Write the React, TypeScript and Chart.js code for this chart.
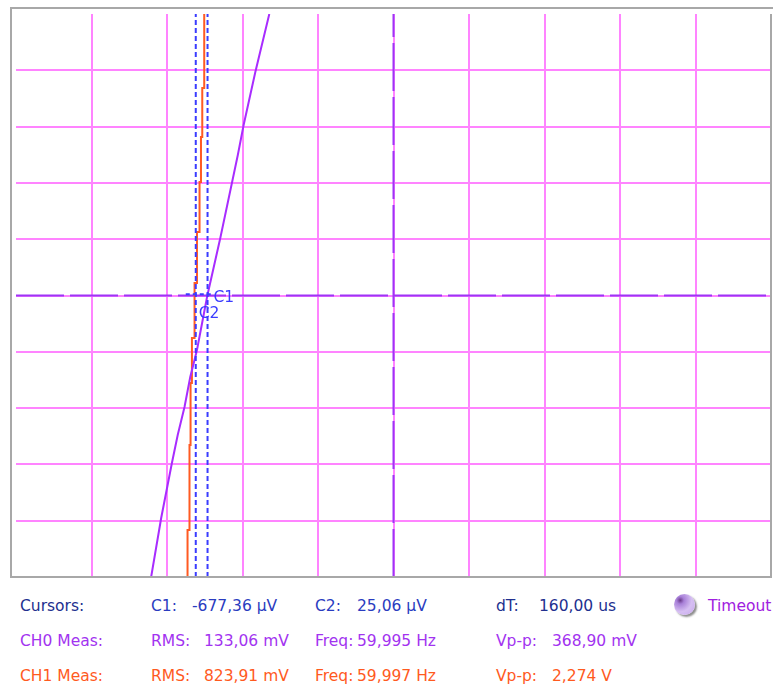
import React, { useEffect, useRef } from "react";
import { Chart, registerables } from "chart.js";
Chart.register(...registerables);

// Screen: 10 horizontal divisions x 10 vertical divisions, centre at (5, 0)
const ch0X = [1.79, 1.923, 2.065, 2.142, 2.232, 2.308, 2.397, 2.533, 2.706, 2.938, 3.015, 3.17, 3.355];
const ch0Y = [-5.0, -3.952, -2.975, -2.478, -1.98, -1.448, -0.968, -0.009, 1.021, 2.496, 3.028, 3.97, 5.0];
const ch1X = [2.272, 2.298, 2.312, 2.33, 2.365, 2.397, 2.431, 2.45, 2.467, 2.493, 2.493];
const ch1Y = [-5.0, -4.165, -2.655, -1.554, -0.755, 0.222, 1.128, 2.016, 2.815, 3.686, 5.0];
const cursorX = [2.381, 2.537];
const cursorLabels = ["C2", "C1"];
const hCursorLevel = 0.02;

const rowLabels = ["Cursors:", "CH0 Meas:", "CH1 Meas:"];
const col1Labels = ["C1:", "RMS:", "RMS:"];
const col1Values = ["-677,36 µV", "133,06 mV", "823,91 mV"];
const col2Labels = ["C2:", "Freq:", "Freq:"];
const col2Values = ["25,06 µV", "59,995 Hz", "59,997 Hz"];
const col3Labels = ["dT:", "Vp-p:", "Vp-p:"];
const col3Values = ["160,00 us", "368,90 mV", "2,274 V"];
const statusText = "Timeout";

const GRID = "#ff84ff";
const CENTER = "#9e34f6";
const CH0 = "#a82cff";
const CH1 = "#ff5a22";
const CURSOR = "#3a3cff";
const FRAME = "#a8a8a8";

const rowColors = ["#22308f", "#a233f0", "#ff5a1e"];
const valueColors = ["#2a3cc0", "#a233f0", "#ff5a1e"];

const toPts = (xs: number[], ys: number[]) => xs.map((x, i) => ({ x, y: ys[i] }));

export default function App() {
  const ref = useRef<HTMLCanvasElement | null>(null);

  useEffect(() => {
    if (!ref.current) return;
    const overlay = {
      id: "overlay",
      afterDraw(chart: any) {
        const ctx = chart.ctx;
        const sx = chart.scales.x;
        const sy = chart.scales.y;
        ctx.save();
        // horizontal cursor marker
        const y0 = sy.getPixelForValue(hCursorLevel);
        ctx.strokeStyle = CURSOR;
        ctx.lineWidth = 2;
        ctx.setLineDash([4, 3]);
        ctx.beginPath();
        ctx.moveTo(sx.getPixelForValue(cursorX[0]) - 10, y0);
        ctx.lineTo(sx.getPixelForValue(cursorX[1]) + 5, y0);
        ctx.stroke();
        ctx.setLineDash([]);
        // labels
        ctx.fillStyle = CURSOR;
        ctx.font = '15.5px "DejaVu Sans"';
        ctx.textBaseline = "middle";
        ctx.textAlign = "left";
        const yc = sy.getPixelForValue(0);
        ctx.fillText(cursorLabels[1], sx.getPixelForValue(cursorX[1]) + 6, yc + 2);
        ctx.fillText(cursorLabels[0], sx.getPixelForValue(cursorX[0]) + 3, yc + 18);
        // frame
        ctx.strokeStyle = FRAME;
        ctx.lineWidth = 2;
        ctx.beginPath();
        ctx.moveTo(11, 578);
        ctx.lineTo(11, 8);
        ctx.lineTo(773, 8);
        ctx.moveTo(771, 14);
        ctx.lineTo(771, 577);
        ctx.lineTo(11, 577);
        ctx.stroke();
        ctx.restore();
      },
    };

    const gridColor = (c: any) =>
      c.index === 0 || c.index === 10 ? "rgba(0,0,0,0)" : GRID;

    const chart = new Chart(ref.current, {
      type: "line",
      data: {
        datasets: [
          { data: toPts([cursorX[0], cursorX[0]], [-5, 5]), borderColor: CURSOR, borderWidth: 2, borderDash: [5, 3] },
          { data: toPts([cursorX[1], cursorX[1]], [-5, 5]), borderColor: CURSOR, borderWidth: 2, borderDash: [5, 3] },
          { data: toPts(ch0X, ch0Y), borderColor: CH0, borderWidth: 2 },
          { data: toPts(ch1X, ch1Y), borderColor: CH1, borderWidth: 2, stepped: "after" },
          { data: toPts([0, 10], [0, 0]), borderColor: CENTER, borderWidth: 2, borderDash: [48, 6] },
          { data: toPts([5, 5], [-5, 5]), borderColor: CENTER, borderWidth: 2, borderDash: [48, 6] },
        ] as any,
      },
      options: {
        animation: false,
        responsive: false,
        layout: { padding: { left: 16, top: 14, right: 2, bottom: 3 } },
        plugins: { legend: { display: false }, tooltip: { enabled: false } },
        elements: { point: { radius: 0 }, line: { tension: 0 } },
        scales: {
          x: {
            type: "linear",
            min: 0,
            max: 10,
            offset: false,
            ticks: { stepSize: 1, display: false },
            grid: { color: gridColor, lineWidth: 2, drawTicks: false },
            border: { display: false },
            afterFit: (a: any) => { a.height = 0; },
          },
          y: {
            type: "linear",
            min: -5,
            max: 5,
            ticks: { stepSize: 1, display: false },
            grid: { color: gridColor, lineWidth: 2, drawTicks: false },
            border: { display: false },
            afterFit: (a: any) => { a.width = 0; },
          },
        },
      } as any,
      plugins: [overlay],
    });
    return () => chart.destroy();
  }, []);

  const baselines = [611, 646.5, 681];
  const txt = (s: string, x: number, base: number, color: string, key: string) => (
    <span
      key={key}
      style={{
        position: "absolute",
        left: x,
        top: base - 13.5,
        lineHeight: "16px",
        fontSize: "15.5px",
        fontFamily: '"DejaVu Sans", sans-serif',
        color,
        whiteSpace: "pre",
      }}
    >
      {s}
    </span>
  );

  return (
    <div style={{ position: "absolute", left: 0, top: 0, width: 773, height: 684, background: "#fff", overflow: "hidden" }}>
      <canvas ref={ref} width={773} height={580} style={{ position: "absolute", left: 0, top: 0 }} />
      {rowLabels.map((l, i) => txt(l, 20, baselines[i], rowColors[i], "l" + i))}
      {col1Labels.map((l, i) => txt(l, 151, baselines[i], valueColors[i], "a" + i))}
      {col1Values.map((l, i) => txt(l, i === 0 ? 192 : 204, baselines[i], valueColors[i], "av" + i))}
      {col2Labels.map((l, i) => txt(l, 315, baselines[i], valueColors[i], "b" + i))}
      {col2Values.map((l, i) => txt(l, 357, baselines[i], valueColors[i], "bv" + i))}
      {col3Labels.map((l, i) => txt(l, 496, baselines[i], i === 0 ? rowColors[0] : valueColors[i], "c" + i))}
      {col3Values.map((l, i) => txt(l, i === 0 ? 539 : 552, baselines[i], i === 0 ? rowColors[0] : valueColors[i], "cv" + i))}
      <div
        style={{
          position: "absolute",
          left: 674,
          top: 594,
          width: 21,
          height: 21,
          borderRadius: "50%",
          background: "radial-gradient(circle at 30% 30%, #6a3a8a 0, #a880d8 18%, #d6bff2 55%, #c7a6ee 100%)",
          boxShadow: "2px 2px 2px rgba(0,0,0,0.45)",
        }}
      />
      {txt(statusText, 708, baselines[0], "#a020e0", "st")}
    </div>
  );
}
